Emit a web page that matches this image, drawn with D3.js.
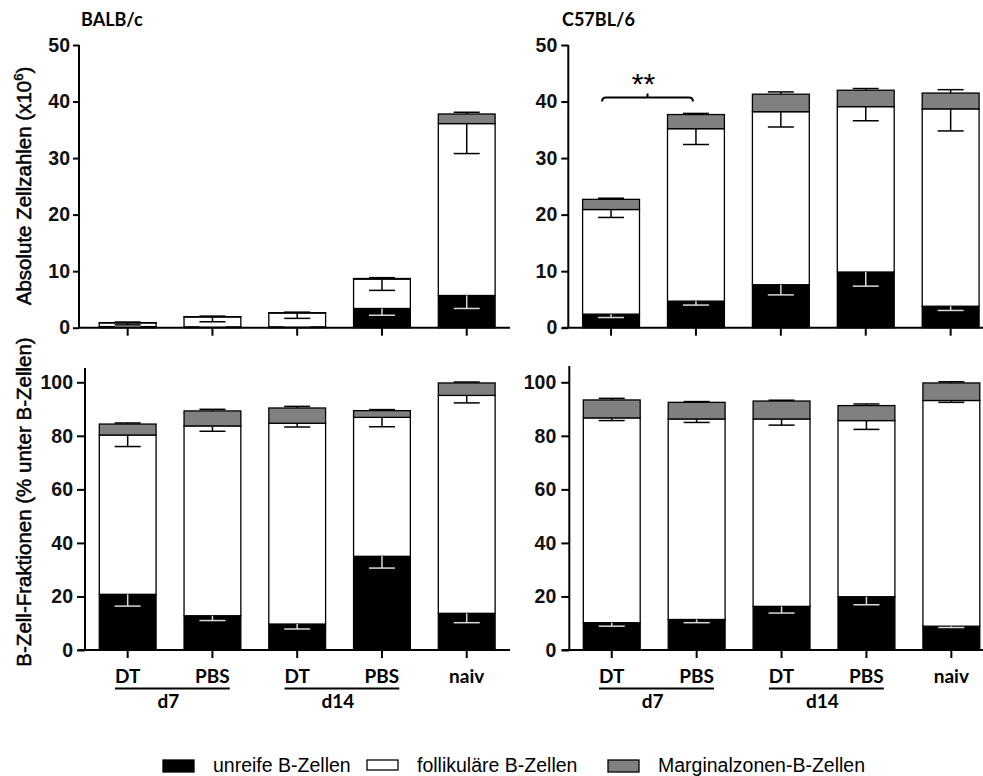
<!DOCTYPE html>
<html>
<head>
<meta charset="utf-8">
<script src="https://cdn.jsdelivr.net/npm/d3@7"></script>
<style>
  body { margin: 0; background: #fff; }
</style>
</head>
<body>
<div id="chart"></div>
<script>

// ======================= //
// DATA
// ======================= //

var groups = ["DT d7", "PBS d7", "DT d14", "PBS d14", "naiv"]
var groupLabels = ["DT", "PBS", "DT", "PBS", "naiv"]
var timeLabels = ["d7", "d14"]
var timeFirst = [0, 2]
var timeLast = [1, 3]

var seriesNames = ["unreife B-Zellen", "follikuläre B-Zellen", "Marginalzonen-B-Zellen"]
var seriesKeys = ["imm", "foll", "marg"]

var absTicks = [0, 10, 20, 30, 40, 50]
var pctTicks = [0, 20, 40, 60, 80, 100]

// BALB/c, absolute numbers (x10^6)
var balbAbsImm = [0.2, 0.15, 0.15, 3.4, 5.7]
var balbAbsImmErr = [0.1, 0.05, 0.05, 1.2, 2.3]
var balbAbsFoll = [0.65, 1.75, 2.45, 5.2, 30.4]
var balbAbsFollErr = [0.35, 0.85, 0.95, 2.0, 5.3]
var balbAbsMarg = [0.05, 0.05, 0.05, 0.1, 1.7]
var balbAbsMargErr = [0.1, 0.1, 0.1, 0.15, 0.3]

// C57BL/6, absolute numbers (x10^6)
var c57AbsImm = [2.4, 4.7, 7.6, 9.85, 3.8]
var c57AbsImmErr = [0.6, 0.7, 1.8, 2.5, 0.75]
var c57AbsFoll = [18.5, 30.5, 30.6, 29.25, 34.9]
var c57AbsFollErr = [1.4, 2.8, 2.7, 2.5, 3.9]
var c57AbsMarg = [1.8, 2.5, 3.1, 2.9, 2.8]
var c57AbsMargErr = [0.2, 0.2, 0.4, 0.3, 0.6]

// BALB/c, % of B cells
var balbPctImm = [20.8, 12.8, 9.7, 35.0, 13.7]
var balbPctImmErr = [4.4, 1.8, 1.85, 4.4, 3.5]
var balbPctFoll = [59.5, 70.9, 75.0, 51.9, 81.4]
var balbPctFollErr = [4.3, 2.0, 1.4, 3.5, 2.8]
var balbPctMarg = [4.1, 5.6, 5.7, 2.5, 4.65]
var balbPctMargErr = [0.4, 0.6, 0.6, 0.4, 0.35]

// C57BL/6, % of B cells
var c57PctImm = [10.2, 11.4, 16.3, 19.9, 8.9]
var c57PctImmErr = [1.3, 1.2, 2.5, 3.0, 0.5]
var c57PctFoll = [76.5, 74.9, 70.0, 65.8, 84.3]
var c57PctFollErr = [1.0, 1.3, 2.3, 3.3, 0.7]
var c57PctMarg = [6.7, 6.2, 6.7, 5.6, 6.55]
var c57PctMargErr = [0.6, 0.3, 0.3, 0.6, 0.45]


// ======================= //
// SVG
// ======================= //

var W = 983, H = 776
var svg = d3.select("#chart")
  .append("svg")
    .attr("width", W)
    .attr("height", H)

var fillColor = ["#000000", "#ffffff", "#808080"]
var errColor = ["#d8d8d8", "#000000", "#000000"]
var tickFont = "'Liberation Sans', Arial, sans-serif"
var labelFont = "Lato, 'Open Sans', sans-serif"


// ======================= //
// ONE PANEL
// ======================= //

function drawPanel(p) {

  var x = d3.scaleBand()
    .domain(groups)
    .range(p.xRange)
    .paddingInner(0.33)
    .paddingOuter(0.165)

  var y = d3.scaleLinear()
    .domain(p.yDomain)
    .range(p.yRange)

  var rows = groups.map(function(g, i) {
    return { group: g, imm: p.vals[0][i], foll: p.vals[1][i], marg: p.vals[2][i] }
  })
  var stackedData = d3.stack().keys(seriesKeys)(rows)

  var g = svg.append("g")

  // bars
  g.selectAll("g.layer")
    .data(stackedData)
    .enter().append("g")
      .attr("fill", function(d, i) { return fillColor[i] })
    .selectAll("rect")
    .data(function(d) { return d })
    .enter().append("rect")
      .attr("x", function(d) { return x(d.data.group) })
      .attr("width", x.bandwidth())
      .attr("y", function(d) { return y(d[1]) })
      .attr("height", function(d) { return y(d[0]) - y(d[1]) })
      .attr("stroke", "#000")
      .attr("stroke-width", 1.3)

  // error bars : down for lower segments, up for the top one
  var capHalf = 13
  stackedData.forEach(function(layer, k) {
    layer.forEach(function(d, i) {
      var cx = x(d.data.group) + x.bandwidth() / 2
      var e = p.errs[k][i]
      var end = k == 2 ? d[1] + e : d[1] - e
      g.append("line")
        .attr("x1", cx).attr("x2", cx)
        .attr("y1", y(d[1])).attr("y2", y(end))
        .attr("stroke", errColor[k]).attr("stroke-width", 1.5)
      g.append("line")
        .attr("x1", cx - capHalf).attr("x2", cx + capHalf)
        .attr("y1", y(end)).attr("y2", y(end))
        .attr("stroke", errColor[k]).attr("stroke-width", 1.5)
    })
  })

  // y axis
  var yAxis = g.append("g")
    .attr("transform", "translate(" + p.axisX + ",0)")
    .call(d3.axisLeft(y).tickValues(p.ticks).tickSize(p.tickLen).tickSizeOuter(0).tickPadding(p.tickPad))
  yAxis.select(".domain")
    .attr("stroke-width", 2)
    .attr("d", "M0," + p.yRange[0] + "V" + p.yTop)
  yAxis.selectAll(".tick line").attr("stroke-width", 2)
  yAxis.selectAll(".tick text")
    .style("font-family", tickFont)
    .style("font-weight", "bold")
    .style("font-size", "19.5px")
    .attr("fill", "#111")

  // x axis line + ticks
  g.append("line")
    .attr("x1", p.xLine[0]).attr("x2", p.xLine[1])
    .attr("y1", y(0)).attr("y2", y(0))
    .attr("stroke", "#000").attr("stroke-width", 2)
  var xAxis = g.append("g")
    .attr("transform", "translate(0," + y(0) + ")")
    .call(d3.axisBottom(x).tickSize(8).tickFormat(""))
  xAxis.select(".domain").remove()
  xAxis.selectAll(".tick line").attr("stroke-width", 2)

  // category labels under the bottom panels
  if (p.showLabels) {
    var lab = g.selectAll("text.cat")
      .data(groups)
      .enter().append("text")
        .attr("class", "cat")
        .attr("x", function(d) { return x(d) + x.bandwidth() / 2 })
        .attr("y", 683)
        .attr("text-anchor", "middle")
        .style("font-family", labelFont)
        .style("font-weight", "bold")
        .style("font-size", "19px")
        .text(function(d, i) { return groupLabels[i] })
    var nodes = lab.nodes()
    timeLabels.forEach(function(t, j) {
      var b1 = nodes[timeFirst[j]].getBBox()
      var b2 = nodes[timeLast[j]].getBBox()
      var x1 = b1.x, x2 = b2.x + b2.width
      g.append("line")
        .attr("x1", x1).attr("x2", x2)
        .attr("y1", 688.5).attr("y2", 688.5)
        .attr("stroke", "#000").attr("stroke-width", 2)
      g.append("text")
        .attr("x", (x1 + x2) / 2 - 4)
        .attr("y", 708)
        .attr("text-anchor", "middle")
        .style("font-family", labelFont)
        .style("font-weight", "bold")
        .style("font-size", "19px")
        .text(t)
    })
  }

  return { x: x, y: y }
}

var tl = drawPanel({
  xRange: [85.3, 509.1], xLine: [78, 510], axisX: 79,
  yDomain: [0, 50], yRange: [327.7, 45], yTop: 45, ticks: absTicks, tickLen: 6, tickPad: 3,
  vals: [balbAbsImm, balbAbsFoll, balbAbsMarg],
  errs: [balbAbsImmErr, balbAbsFollErr, balbAbsMargErr],
  showLabels: false
})

var tr = drawPanel({
  xRange: [568.6, 993.1], xLine: [562, 983], axisX: 568.3,
  yDomain: [0, 50], yRange: [327.7, 45], yTop: 45, ticks: absTicks, tickLen: 7, tickPad: 4,
  vals: [c57AbsImm, c57AbsFoll, c57AbsMarg],
  errs: [c57AbsImmErr, c57AbsFollErr, c57AbsMargErr],
  showLabels: false
})

var bl = drawPanel({
  xRange: [85.3, 509.1], xLine: [78, 510], axisX: 85,
  yDomain: [0, 105], yRange: [650, 368.9], yTop: 368, ticks: pctTicks, tickLen: 8, tickPad: 4,
  vals: [balbPctImm, balbPctFoll, balbPctMarg],
  errs: [balbPctImmErr, balbPctFollErr, balbPctMargErr],
  showLabels: true
})

var br = drawPanel({
  xRange: [569.3, 993.8], xLine: [562, 983], axisX: 569.3,
  yDomain: [0, 105], yRange: [650, 368.9], yTop: 366, ticks: pctTicks, tickLen: 8, tickPad: 5,
  vals: [c57PctImm, c57PctFoll, c57PctMarg],
  errs: [c57PctImmErr, c57PctFollErr, c57PctMargErr],
  showLabels: true
})


// ======================= //
// TITLES
// ======================= //

svg.append("text")
  .attr("x", 81).attr("y", 26)
  .style("font-family", labelFont).style("font-weight", "bold").style("font-size", "18px")
  .text("BALB/c")

svg.append("text")
  .attr("x", 562).attr("y", 26)
  .style("font-family", labelFont).style("font-weight", "bold").style("font-size", "18px")
  .text("C57BL/6")

var yt1 = svg.append("text")
  .attr("transform", "translate(31,186) rotate(-90)")
  .attr("text-anchor", "middle")
  .attr("stroke", "#000").attr("stroke-width", 0.5)
  .style("font-family", tickFont).style("font-size", "20.5px")
yt1.append("tspan").text("Absolute Zellzahlen (x10")
yt1.append("tspan").attr("dy", -8).style("font-size", "13px").text("6")
yt1.append("tspan").attr("dy", 8).text(")")

svg.append("text")
  .attr("transform", "translate(31,502) rotate(-90)")
  .attr("text-anchor", "middle")
  .attr("stroke", "#000").attr("stroke-width", 0.5)
  .style("font-family", tickFont).style("font-size", "20.5px")
  .text("B-Zell-Fraktionen (% unter B-Zellen)")


// ======================= //
// SIGNIFICANCE
// ======================= //

var sx1 = tr.x(groups[0]) + tr.x.bandwidth() / 2 - 9
var sx2 = tr.x(groups[1]) + tr.x.bandwidth() / 2 - 3
var sy = tr.y(40.7)
svg.append("path")
  .attr("d", "M" + sx1 + "," + (sy + 4) + " Q" + sx1 + "," + sy + " " + (sx1 + 4) + "," + sy +
             " H" + (sx2 - 4) + " Q" + sx2 + "," + sy + " " + sx2 + "," + (sy + 4) +
             " M" + ((sx1 + sx2) / 2) + "," + sy + " V" + (sy - 4))
  .attr("fill", "none").attr("stroke", "#000").attr("stroke-width", 2)
svg.append("text")
  .attr("x", (sx1 + sx2) / 2 - 4).attr("y", 94)
  .attr("text-anchor", "middle")
  .style("font-family", tickFont).style("font-size", "30px")
  .text("**")


// ======================= //
// LEGEND
// ======================= //

var legendX = [163, 367, 608]
var legendTextX = [213, 417, 658]
seriesNames.forEach(function(name, i) {
  svg.append("rect")
    .attr("x", legendX[i]).attr("y", 760)
    .attr("width", 31).attr("height", i == 1 ? 10 : 12)
    .attr("fill", fillColor[i])
    .attr("stroke", "#000").attr("stroke-width", 1.3)
  svg.append("text")
    .attr("x", legendTextX[i]).attr("y", 772)
    .style("font-family", tickFont).style("font-size", "19.5px")
    .text(name)
})

</script>
</body>
</html>
